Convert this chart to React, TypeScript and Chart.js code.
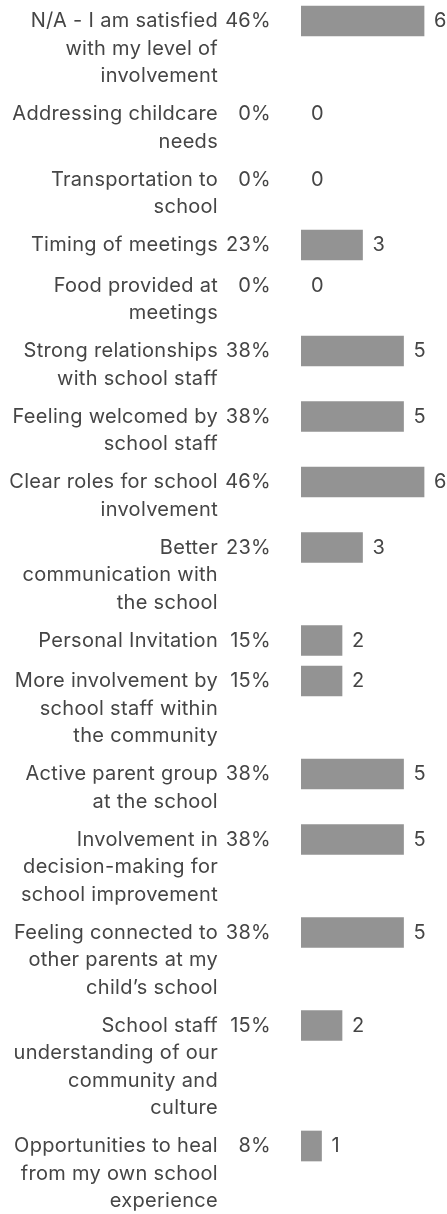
import React, { useEffect, useRef } from 'react';
import { Chart, registerables } from 'chart.js';

Chart.register(...registerables);

const categories: string[][] = [
  ['N/A - I am satisfied', 'with my level of', 'involvement'],
  ['Addressing childcare', 'needs'],
  ['Transportation to', 'school'],
  ['Timing of meetings'],
  ['Food provided at', 'meetings'],
  ['Strong relationships', 'with school staff'],
  ['Feeling welcomed by', 'school staff'],
  ['Clear roles for school', 'involvement'],
  ['Better', 'communication with', 'the school'],
  ['Personal Invitation'],
  ['More involvement by', 'school staff within', 'the community'],
  ['Active parent group', 'at the school'],
  ['Involvement in', 'decision-making for', 'school improvement'],
  ['Feeling connected to', 'other parents at my', 'child\u2019s school'],
  ['School staff', 'understanding of our', 'community and', 'culture'],
  ['Opportunities to heal', 'from my own school', 'experience'],
];

const counts: number[] = [6, 0, 0, 3, 0, 5, 5, 6, 3, 2, 2, 5, 5, 5, 2, 1];
const percents: string[] = ['46%', '0%', '0%', '23%', '0%', '38%', '38%', '46%', '23%', '15%', '15%', '38%', '38%', '38%', '15%', '8%'];

const W = 447;
const H = 1214;
const LINE = 27.5;
const BAR = 30;
const GAP = 10.5;
const FIRST = 21;
const X_MAX = 7.12;
const FONT = '20px Inter, "Noto Sans", sans-serif';
const TEXT_COLOR = '#454545';
const BAR_COLOR = '#939393';

// vertical centre of each row's first line, derived from the label line counts
const centers: number[] = [];
categories.forEach((lines, i) => {
  if (i === 0) centers.push(FIRST);
  else {
    const prev = categories[i - 1].length;
    centers.push(centers[i - 1] + Math.max(prev * LINE, BAR) + GAP);
  }
});

const textPlugin = {
  id: 'rowText',
  afterDatasetsDraw(chart: any) {
    const ctx = chart.ctx;
    const xs = chart.scales.x;
    const ys = chart.scales.y;
    ctx.save();
    ctx.font = FONT;
    try { (ctx as any).letterSpacing = '0.3px'; } catch (e) {}
    ctx.fillStyle = TEXT_COLOR;
    ctx.textBaseline = 'middle';
    categories.forEach((lines, i) => {
      const y = ys.getPixelForValue(centers[i]);
      ctx.textAlign = 'right';
      lines.forEach((t, k) => ctx.fillText(t, 218, y + k * LINE));
      ctx.fillText(percents[i], 271, y);
      ctx.textAlign = 'left';
      ctx.fillText(String(counts[i]), xs.getPixelForValue(counts[i]) + 10, y);
    });
    ctx.restore();
  },
};

export default function App() {
  const ref = useRef<HTMLCanvasElement | null>(null);
  useEffect(() => {
    document.body.style.margin = '0';
    if (!ref.current) return;
    const chart = new Chart(ref.current, {
      type: 'bar',
      data: {
        datasets: [
          {
            data: counts.map((v, i) => ({ x: v, y: centers[i] })),
            backgroundColor: (c: any) => (c.raw && c.raw.x === 0 ? 'rgba(0,0,0,0)' : BAR_COLOR),
            borderWidth: 0,
            barThickness: BAR,
          },
        ],
      },
      options: {
        indexAxis: 'y',
        responsive: false,
        maintainAspectRatio: false,
        animation: false,
        layout: { padding: { left: 301, right: 0, top: 0, bottom: 0 } },
        plugins: { legend: { display: false }, tooltip: { enabled: false } },
        scales: {
          x: { type: 'linear', min: 0, max: X_MAX, display: false, offset: false },
          y: { type: 'linear', min: 0, max: H, reverse: true, display: false, offset: false },
        },
      },
      plugins: [textPlugin],
    } as any);
    return () => chart.destroy();
  }, []);
  return <canvas ref={ref} width={W} height={H} style={{ display: 'block', width: W, height: H }} />;
}
